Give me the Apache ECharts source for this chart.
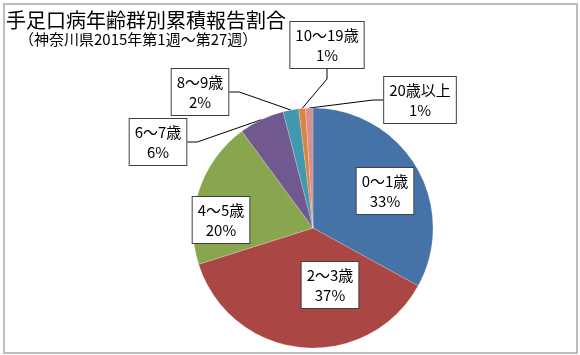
<!DOCTYPE html>
<html>
<head>
<meta charset="utf-8">
<script src="https://cdn.jsdelivr.net/npm/echarts@6/dist/echarts.min.js"></script>
<style>
  html, body { margin: 0; padding: 0; background: #fff; }
  #chart { width: 580px; height: 355px; }
</style>
</head>
<body>
<div id="chart"></div>
<script>
// 年齢群 and their share (%)
const categories = ['0～1歳', '2～3歳', '4～5歳', '6～7歳', '8～9歳', '10～19歳', '20歳以上']
const shares = [33.0, 37.1, 19.8, 6.1, 2.1, 0.9, 1.0]
const colors = ['#4572A7', '#AA4643', '#89A54E', '#71588F', '#4198AF', '#DB843D', '#D5918F']

const titleText = '手足口病年齢群別累積報告割合'
const subText = '（神奈川県2015年第1週～第27週）'

// where each callout box sits (centre of the box)
const labelSpots = [[385, 191], [330, 285], [221, 220], [158, 142], [200, 92], [327, 45], [420, 100]]

const font = '"Noto Sans CJK JP", sans-serif'

let chart = echarts.init(document.getElementById('chart'))

let pieData = categories.map((name, i) => {
	let inside = i < 3
	return {
		name: name,
		value: shares[i],
		itemStyle: { color: colors[i] },
		label: { position: inside ? 'inside' : 'outside' },
		labelLine: { show: !inside }
	}
})

chart.setOption({
	animation: false,
	graphic: [{
		type: 'rect',
		shape: { x: 4, y: 4, width: 573, height: 349 },
		style: { fill: 'none', stroke: '#bdbdbd', lineWidth: 2 }
	}],
	title: [{
		text: titleText,
		left: 6,
		top: 10,
		padding: 0,
		textStyle: { fontSize: 20, fontWeight: 'normal', color: '#000', fontFamily: font }
	}, {
		text: subText,
		left: 19,
		top: 32,
		padding: 0,
		textStyle: { fontSize: 15, fontWeight: 'normal', color: '#000', fontFamily: font }
	}],
	series: [{
		type: 'pie',
		center: [313, 228],
		radius: 120,
		startAngle: 90,
		clockwise: true,
		avoidLabelOverlap: false,
		percentPrecision: 0,
		data: pieData,
		itemStyle: { borderColor: 'rgba(255,255,255,0.4)', borderWidth: 0.5 },
		emphasis: { disabled: true },
		label: {
			formatter: '{b}\n{d}%',
			fontFamily: font,
			fontSize: 15,
			lineHeight: 20,
			color: '#000',
			align: 'center',
			backgroundColor: '#fff',
			borderColor: '#404040',
			borderWidth: 1,
			padding: [3, 5, 3, 5]
		},
		labelLine: {
			show: true,
			length: 10,
			length2: 10,
			lineStyle: { color: '#000', width: 1 }
		},
		labelLayout: function (params) {
			let spot = labelSpots[params.dataIndex]
			return { x: spot[0], y: spot[1], align: 'center', verticalAlign: 'middle' }
		}
	}]
})
</script>
</body>
</html>
